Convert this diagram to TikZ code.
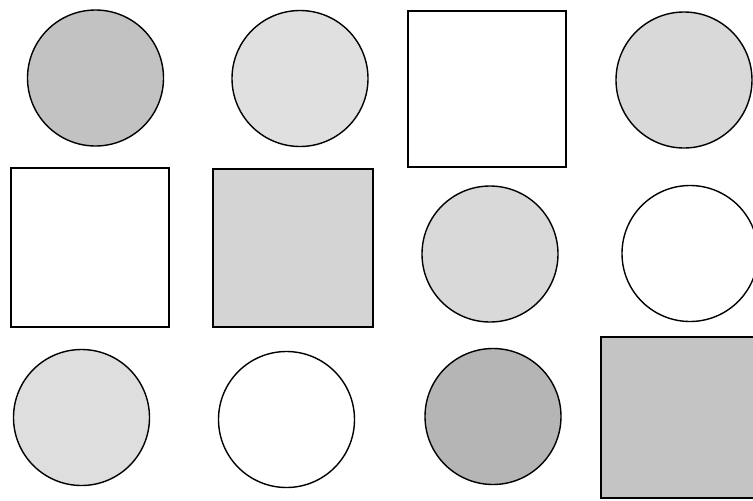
\documentclass[tikz,border=0pt]{standalone}
\usepackage{tikz}
\usetikzlibrary{positioning}

\begin{document}
\begin{tikzpicture}[
    x=1pt, y=-1pt,
    disc/.style={draw, circle, line width=1.4pt, inner sep=0pt,
                 minimum size=136pt},
    plate/.style={draw, rectangle, line width=1.4pt, inner sep=0pt,
                  minimum width=158pt, minimum height=158pt}
  ]
    \useasboundingbox (0,0) rectangle (753,501);
    % top row
    \node[disc, fill=black!24] (c11) at (95.5,78) {};
    \node[disc, fill=black!12] (c12) at (300,78.5) {};
    \node[plate, fill=white, minimum height=156pt] (s13) at (487,89) {};
    \node[disc, fill=black!15] (c14) at (684,80) {};
    % middle row
    \node[plate, fill=white, minimum height=159pt] (s21) at (90,247.5) {};
    \node[plate, fill=black!17, minimum width=160pt] (s22) at (293,248) {};
    \node[disc, fill=black!15] (c23) at (490,254) {};
    \node[disc, fill=white] (c24) at (690,253.5) {};
    % bottom row
    \node[disc, fill=black!13] (c31) at (81.5,417.5) {};
    \node[disc, fill=white] (c32) at (286.5,419.5) {};
    \node[disc, fill=black!29] (c33) at (493,416.5) {};
    \node[plate, fill=black!23, minimum width=161pt, minimum height=161pt] (s34) at (681.5,417.5) {};
  \end{tikzpicture}
\end{document}
